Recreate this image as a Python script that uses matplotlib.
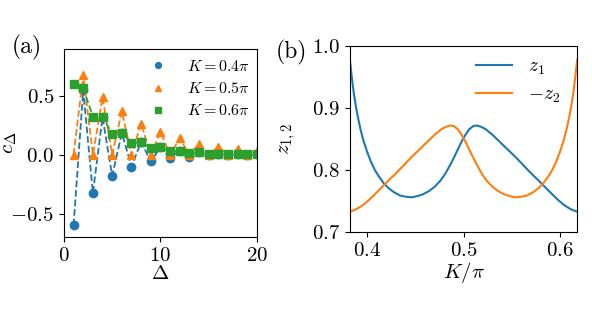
import matplotlib
matplotlib.use("Agg")
from matplotlib import pyplot as plt

plt.rcParams["font.family"] = "serif"
plt.rcParams["font.serif"] = ["cmr10", "DejaVu Serif"]
plt.rcParams["mathtext.fontset"] = "cm"
plt.rcParams["axes.formatter.use_mathtext"] = True
plt.rcParams["font.size"] = 15

# panel (a): correlation c_Delta for three K
delta = list(range(1, 21))
c_04 = [-0.60, 0.55, -0.325, 0.32, -0.178, 0.184, -0.10, 0.11, -0.057, 0.062,
        -0.028, 0.036, -0.015, 0.02, -0.006, 0.01, -0.004, 0.006, -0.003, 0.004]
c_05 = [0.0, 0.68, 0.0, 0.49, 0.0, 0.37, 0.0, 0.265, 0.0, 0.195,
        0.0, 0.14, 0.0, 0.095, 0.0, 0.07, 0.0, 0.05, 0.0, 0.035]
c_06 = [0.60, 0.565, 0.325, 0.325, 0.178, 0.184, 0.10, 0.11, 0.057, 0.062,
        0.028, 0.036, 0.015, 0.02, 0.006, 0.01, 0.004, 0.006, 0.003, 0.004]
labels_a = [r"$K=0.4\pi$", r"$K=0.5\pi$", r"$K=0.6\pi$"]

# panel (b): z1 and -z2 vs K/pi
k_z1 = [0.382, 0.384, 0.386, 0.388, 0.390, 0.393, 0.396, 0.400, 0.404, 0.408,
        0.412, 0.417, 0.422, 0.428, 0.434, 0.440, 0.446, 0.452, 0.458, 0.464,
        0.470, 0.476, 0.481, 0.486, 0.490, 0.494, 0.498, 0.502, 0.506, 0.510,
        0.514, 0.518, 0.523, 0.530, 0.538, 0.546, 0.554, 0.562, 0.570, 0.578,
        0.585, 0.592, 0.598, 0.604, 0.610, 0.614, 0.618]
z1 = [0.978, 0.950, 0.925, 0.905, 0.888, 0.866, 0.848, 0.829, 0.813, 0.800,
      0.790, 0.779, 0.771, 0.764, 0.759, 0.757, 0.756, 0.758, 0.761, 0.766,
      0.773, 0.783, 0.794, 0.808, 0.820, 0.833, 0.846, 0.857, 0.866, 0.871,
      0.872, 0.870, 0.866, 0.857, 0.845, 0.833, 0.821, 0.808, 0.795, 0.783,
      0.772, 0.761, 0.752, 0.744, 0.738, 0.735, 0.733]
k_z2 = [0.382, 0.386, 0.390, 0.396, 0.402, 0.408, 0.415, 0.422, 0.430, 0.438,
        0.446, 0.454, 0.462, 0.470, 0.477, 0.482, 0.486, 0.490, 0.494, 0.498,
        0.502, 0.506, 0.510, 0.514, 0.519, 0.524, 0.530, 0.536, 0.542, 0.548,
        0.554, 0.560, 0.566, 0.572, 0.578, 0.583, 0.588, 0.592, 0.596, 0.600,
        0.604, 0.607, 0.610, 0.612, 0.614, 0.616, 0.618]
mz2 = [0.733, 0.735, 0.738, 0.744, 0.752, 0.761, 0.772, 0.783, 0.795, 0.808,
       0.821, 0.833, 0.845, 0.857, 0.866, 0.870, 0.872, 0.871, 0.866, 0.857,
       0.846, 0.833, 0.820, 0.808, 0.794, 0.783, 0.773, 0.766, 0.761, 0.758,
       0.756, 0.757, 0.759, 0.764, 0.771, 0.779, 0.790, 0.800, 0.813, 0.829,
       0.848, 0.866, 0.888, 0.905, 0.925, 0.950, 0.978]

blue = "#1f77b4"
orange = "#ff7f0e"
green = "#2ca02c"

fig = plt.figure(figsize=(5.92, 3.14), dpi=100)
axa = fig.add_axes([0.108, 0.245, 0.326, 0.599])
axb = fig.add_axes([0.591, 0.261, 0.384, 0.592])

# (a)
for c, col, mk, lab in zip([c_04, c_05, c_06], [blue, orange, green], ["o", "^", "s"], labels_a):
    axa.plot(delta, c, "--", color=col, linewidth=1.3)
    axa.plot(delta, c, mk, color=col, markersize=6, linestyle="none", label=lab)
axa.set_xlim(0, 20)
axa.set_ylim(-0.7, 0.9)
axa.set_xticks([0, 10, 20])
axa.set_yticks([-0.5, 0.0, 0.5])
axa.set_xlabel(r"$\Delta$", labelpad=0)
axa.set_ylabel(r"$c_\Delta$")
axa.yaxis.set_label_coords(-0.235, 0.5)
axa.legend(loc="upper right", frameon=False, fontsize=11.5, markerscale=0.7,
           handlelength=1.0, handletextpad=1.3, labelspacing=0.45, borderaxespad=0.05,
           bbox_to_anchor=(1.0, 0.985))
fig.text(0.02, 0.83, "(a)", fontsize=17)

# (b)
axb.plot(k_z1, z1, color=blue, linewidth=1.5, label=r"$z_1$")
axb.plot(k_z2, mz2, color=orange, linewidth=1.5, label=r"$-z_2$")
axb.set_xlim(0.382, 0.618)
axb.set_ylim(0.7, 1.0)
axb.set_xticks([0.4, 0.5, 0.6])
axb.set_yticks([0.7, 0.8, 0.9, 1.0])
axb.set_xlabel(r"$K/\pi$", labelpad=0)
axb.set_ylabel(r"$z_{1,2}$")
axb.yaxis.set_label_coords(-0.23, 0.5)
axb.legend(loc="upper right", frameon=False, fontsize=14, handlelength=1.85,
           labelspacing=0.45, bbox_to_anchor=(1.0, 1.03))
fig.text(0.465, 0.815, "(b)", fontsize=17)

plt.savefig("out.png", dpi=100)
